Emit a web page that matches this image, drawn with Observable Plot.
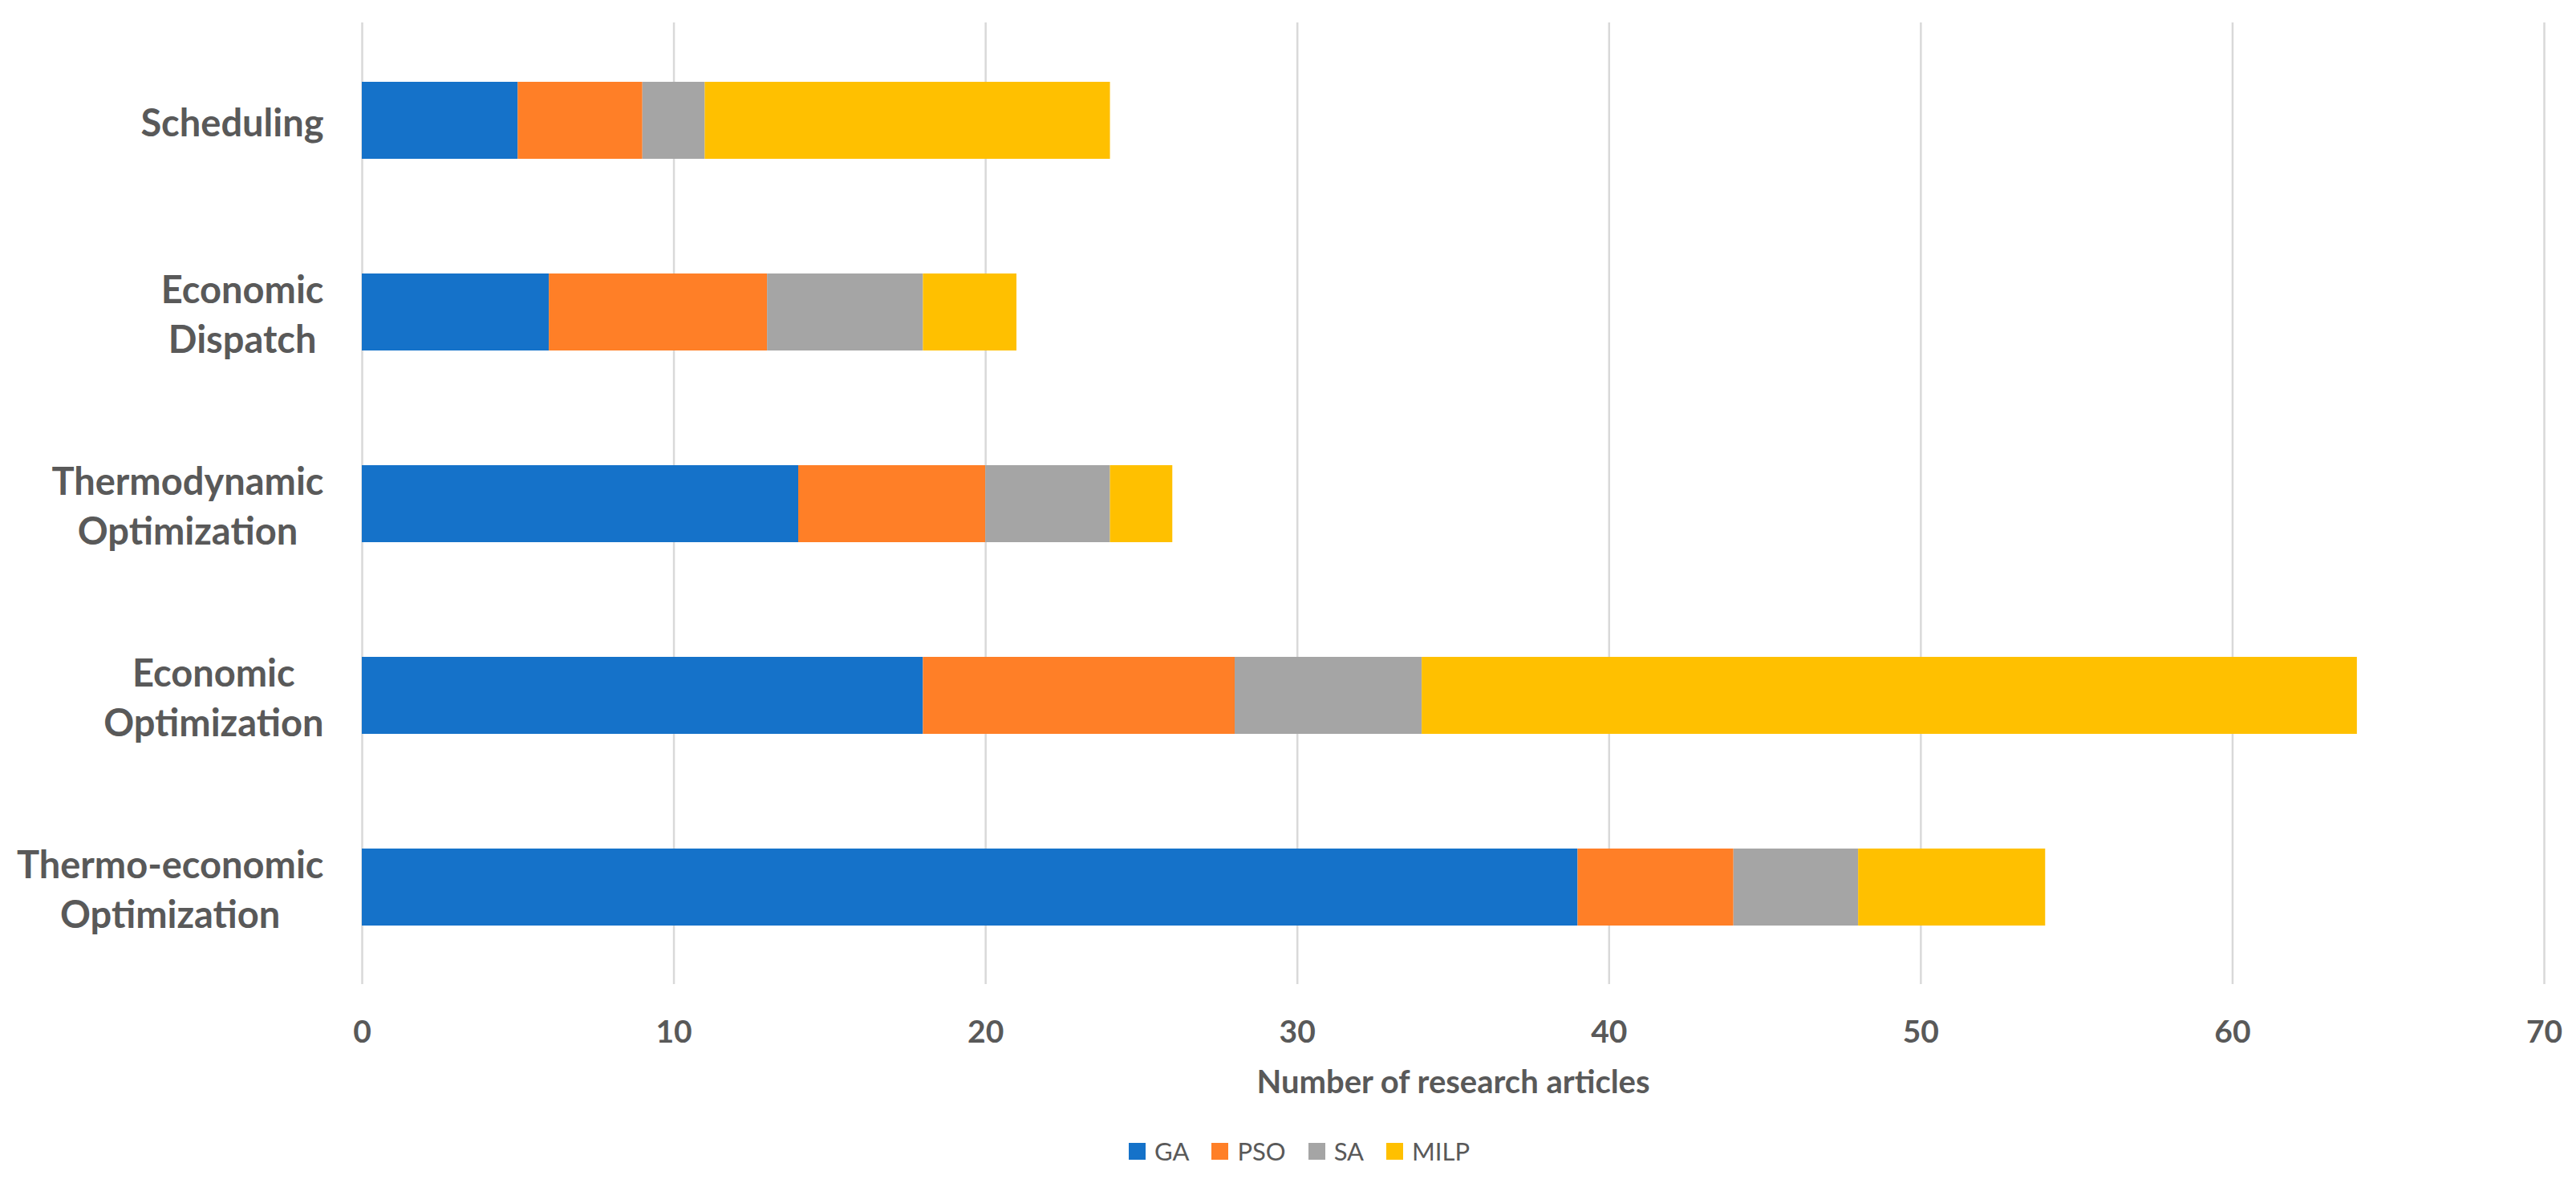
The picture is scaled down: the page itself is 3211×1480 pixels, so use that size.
<!DOCTYPE html>
<html>
<head>
<meta charset="utf-8">
<script src="https://cdn.jsdelivr.net/npm/d3@7"></script>
<script src="https://cdn.jsdelivr.net/npm/@observablehq/plot@0.6"></script>
<style>
  html, body { margin: 0; padding: 0; background: #fff; }
  #chart svg { display: block; }
  #legend {
    width: 3211px; height: 90px; display: flex; justify-content: center; align-items: center;
    font-family: Lato, sans-serif; font-size: 31px; color: #595959; padding-left: 28px; box-sizing: border-box;
  }
  .item { display: flex; align-items: center; margin: 0 14px; }
  .sw { width: 21px; height: 21px; margin-right: 11px; }
</style>
</head>
<body>
<div id="chart"></div>
<div id="legend"></div>
<script>
const categories = ["Scheduling", "Economic Dispatch", "Thermodynamic Optimization", "Economic Optimization", "Thermo-economic Optimization"];
const labelLines = [["Scheduling"], ["Economic", "Dispatch"], ["Thermodynamic", "Optimization"], ["Economic", "Optimization"], ["Thermo-economic", "Optimization"]];
const methods = ["GA", "PSO", "SA", "MILP"];
const GA = [5, 6, 14, 18, 39];
const PSO = [4, 7, 6, 10, 5];
const SA = [2, 5, 4, 6, 4];
const MILP = [13, 3, 2, 30, 6];
const xTicks = [0, 10, 20, 30, 40, 50, 60, 70];
const colors = ["#1572C9", "#FF7F27", "#A5A5A5", "#FFC000"];
const xTitle = "Number of research articles";

const series = {GA, PSO, SA, MILP};
const rows = [];
categories.forEach((c, i) => methods.forEach(m => rows.push({category: c, method: m, value: series[m][i]})));

const textColor = "#595959";
const yFont = 47;
const gap = 48;
const ctx = document.createElement("canvas").getContext("2d");
ctx.font = `bold ${yFont}px Lato`;
const labelMarks = categories.map((c, i) => {
  const w = Math.max(...labelLines[i].map(l => ctx.measureText(l).width));
  return Plot.text([c], {
    y: d => d, text: () => labelLines[i].join("\n"), frameAnchor: "left",
    textAnchor: "middle", dx: -(gap + w / 2), fontSize: yFont, fontWeight: "bold",
    lineHeight: 1.32, fill: textColor
  });
});

const chart = Plot.plot({
  width: 3211,
  height: 1390,
  marginLeft: 451,
  marginRight: 40,
  marginTop: 28,
  marginBottom: 163,
  style: {fontFamily: "Lato, sans-serif", color: textColor, background: "#fff"},
  x: {domain: [0, 70], ticks: xTicks},
  y: {domain: categories, paddingInner: 0.6, paddingOuter: 0.3, axis: null},
  color: {domain: methods, range: colors},
  marks: [
    Plot.gridX(xTicks, {stroke: "#D9D9D9", strokeOpacity: 1, strokeWidth: 2.5}),
    Plot.barX(rows, {x: "value", y: "category", fill: "method", order: methods}),
    Plot.axisX(xTicks, {tickSize: 0, tickPadding: 45, fontSize: 39, fontWeight: "bold", label: null, fill: textColor}),
    Plot.text([xTitle], {frameAnchor: "bottom", dy: 123, lineAnchor: "middle", fontSize: 40, fontWeight: "bold", fill: textColor}),
    ...labelMarks
  ]
});
document.getElementById("chart").appendChild(chart);

const legend = document.getElementById("legend");
methods.forEach((m, i) => {
  const item = document.createElement("div");
  item.className = "item";
  const sw = document.createElement("div");
  sw.className = "sw";
  sw.style.background = colors[i];
  const t = document.createElement("span");
  t.textContent = m;
  item.appendChild(sw); item.appendChild(t);
  legend.appendChild(item);
});
</script>
</body>
</html>
